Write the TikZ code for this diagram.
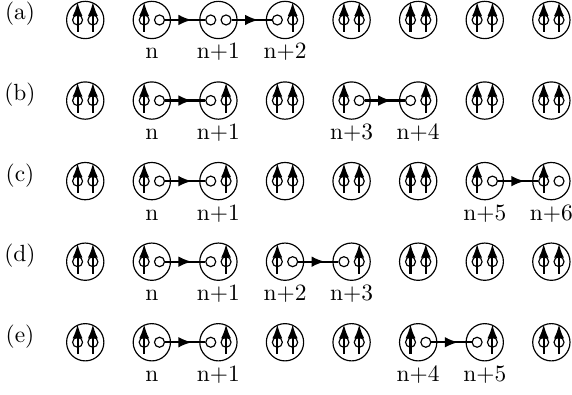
\documentclass[tikz,border=0pt]{standalone}
\usetikzlibrary{arrows.meta, decorations.markings}

\begin{document}
\begin{tikzpicture}[
    site/.style={draw, circle, minimum size=0.56cm, inner sep=0pt, line width=0.5pt},
    ring/.style={draw, circle, minimum size=0.15cm, inner sep=0pt, line width=0.5pt},
    spin/.style={-{Latex[length=0.21cm, width=0.15cm]}, line width=0.9pt},
    hop/.style={line width=0.9pt, postaction={decorate},
                decoration={markings, mark=at position 0.5 with
                  {\arrow[xshift=0.1cm]{Latex[length=0.2cm, width=0.16cm]}}}},
    lbl/.style={anchor=base}
  ]
  \useasboundingbox (0,0) rectangle (8.59,-5.92);
  % sites: u = spin up, h = hole (left/right slot)
  \foreach \row/\y/\types in {
      a/-0.30/{u/u,u/h,h/h,h/u,u/u,u/u,u/u,u/u},
      b/-1.51/{u/u,u/h,h/u,u/u,u/h,h/u,u/u,u/u},
      c/-2.72/{u/u,u/h,h/u,u/u,u/u,u/u,u/h,u/h},
      d/-3.93/{u/u,u/h,h/u,u/h,h/u,u/u,u/u,u/u},
      e/-5.14/{u/u,u/h,h/u,u/u,u/u,u/h,h/u,u/u}} {
    \node[lbl] (lab\row) at (0.30,\y) {(\row)};
    \foreach \l/\r [count=\c from 0] in \types {
      \node[site] (\row\c) at (1.28+\c,\y) {};
      \node[ring] (\row\c l) at ([xshift=-0.115cm]\row\c.center) {};
      \node[ring] (\row\c r) at ([xshift=0.115cm]\row\c.center) {};
      \if\l u\draw[spin] ([yshift=-0.18cm]\row\c l.center) -- ([yshift=0.27cm]\row\c l.center);\fi
      \if\r u\draw[spin] ([yshift=-0.18cm]\row\c r.center) -- ([yshift=0.27cm]\row\c r.center);\fi
    }
  }
  % hops
  \draw[hop] (a1r) -- (a2l);
  \draw[hop] (a2r) -- (a3l);
  \draw[hop] (b1r) -- (b2l);
  \draw[hop] (b4r) -- (b5l);
  \draw[hop] (c1r) -- (c2l);
  \draw[hop] (c6r) -- (c7l);
  \draw[hop] (d1r) -- (d2l);
  \draw[hop] (d3r) -- (d4l);
  \draw[hop] (e1r) -- (e2l);
  \draw[hop] (e5r) -- (e6l);
  % site labels
  \node[lbl] (ta1) at ([yshift=-0.585cm]a1.center) {n};
  \node[lbl] (ta2) at ([yshift=-0.585cm]a2.center) {n+1};
  \node[lbl] (ta3) at ([yshift=-0.585cm]a3.center) {n+2};
  \node[lbl] (tb1) at ([yshift=-0.585cm]b1.center) {n};
  \node[lbl] (tb2) at ([yshift=-0.585cm]b2.center) {n+1};
  \node[lbl] (tb4) at ([yshift=-0.585cm]b4.center) {n+3};
  \node[lbl] (tb5) at ([yshift=-0.585cm]b5.center) {n+4};
  \node[lbl] (tc1) at ([yshift=-0.585cm]c1.center) {n};
  \node[lbl] (tc2) at ([yshift=-0.585cm]c2.center) {n+1};
  \node[lbl] (tc6) at ([yshift=-0.585cm]c6.center) {n+5};
  \node[lbl] (tc7) at ([yshift=-0.585cm]c7.center) {n+6};
  \node[lbl] (td1) at ([yshift=-0.585cm]d1.center) {n};
  \node[lbl] (td2) at ([yshift=-0.585cm]d2.center) {n+1};
  \node[lbl] (td3) at ([yshift=-0.585cm]d3.center) {n+2};
  \node[lbl] (td4) at ([yshift=-0.585cm]d4.center) {n+3};
  \node[lbl] (te1) at ([yshift=-0.585cm]e1.center) {n};
  \node[lbl] (te2) at ([yshift=-0.585cm]e2.center) {n+1};
  \node[lbl] (te5) at ([yshift=-0.585cm]e5.center) {n+4};
  \node[lbl] (te6) at ([yshift=-0.585cm]e6.center) {n+5};
\end{tikzpicture}
\end{document}
